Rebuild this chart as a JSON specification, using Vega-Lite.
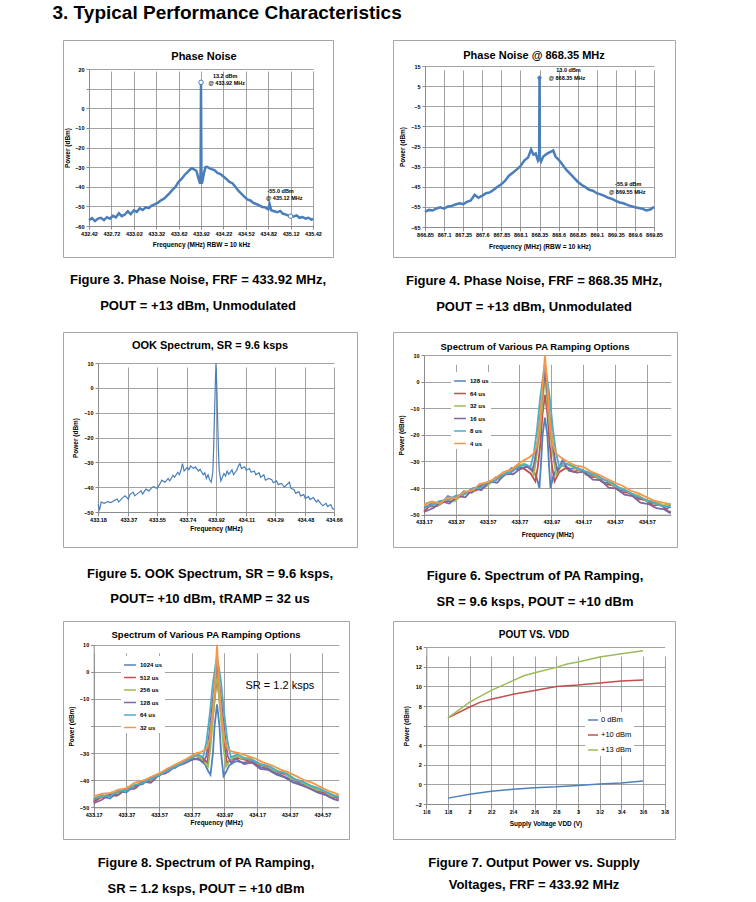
{
"$schema": "https://vega.github.io/schema/vega-lite/v6.json",
"background": "white",
"padding": {"left": 52, "top": 3, "right": 0, "bottom": 0},
"title": {"text": "3.  Typical Performance Characteristics", "anchor": "start", "fontSize": 19, "font": "Liberation Sans", "fontWeight": "bold", "dx": -10, "offset": 17, "color": "#000"},
"resolve": {"scale": {"color": "independent"}, "legend": {"color": "independent"}},
"datasets": {
"p1": [
{"x":432.42,"y":-57.0},{"x":432.46,"y":-56.0},{"x":432.50,"y":-57.5},{"x":432.54,"y":-56.2},{"x":432.58,"y":-55.8},{"x":432.62,"y":-57.0},{"x":432.66,"y":-55.5},{"x":432.70,"y":-56.3},{"x":432.74,"y":-54.8},{"x":432.78,"y":-55.6},{"x":432.82,"y":-53.5},{"x":432.86,"y":-55.0},{"x":432.90,"y":-54.2},{"x":432.94,"y":-52.5},{"x":432.98,"y":-54.0},{"x":433.02,"y":-52.0},{"x":433.06,"y":-52.8},{"x":433.10,"y":-51.0},{"x":433.14,"y":-51.8},{"x":433.18,"y":-50.5},{"x":433.22,"y":-50.9},{"x":433.26,"y":-49.6},{"x":433.30,"y":-49.0},{"x":433.34,"y":-48.2},{"x":433.38,"y":-47.0},{"x":433.42,"y":-46.2},{"x":433.46,"y":-44.8},{"x":433.50,"y":-43.2},{"x":433.54,"y":-41.5},{"x":433.58,"y":-40.0},{"x":433.62,"y":-37.5},{"x":433.66,"y":-36.0},{"x":433.70,"y":-34.0},{"x":433.74,"y":-32.5},{"x":433.78,"y":-31.0},{"x":433.80,"y":-30.5},{"x":433.83,"y":-31.2},{"x":433.86,"y":-32.0},{"x":433.88,"y":-35.0},{"x":433.90,"y":-37.5},{"x":433.91,"y":-38.5},{"x":433.915,"y":-30.0},{"x":433.92,"y":13.2},{"x":433.925,"y":-30.0},{"x":433.93,"y":-38.5},{"x":433.94,"y":-37.0},{"x":433.96,"y":-33.0},{"x":433.98,"y":-30.0},{"x":434.00,"y":-29.8},{"x":434.03,"y":-30.5},{"x":434.06,"y":-31.0},{"x":434.10,"y":-31.5},{"x":434.14,"y":-33.0},{"x":434.18,"y":-33.5},{"x":434.22,"y":-34.8},{"x":434.26,"y":-36.0},{"x":434.30,"y":-37.5},{"x":434.34,"y":-38.2},{"x":434.38,"y":-40.0},{"x":434.42,"y":-42.0},{"x":434.46,"y":-43.5},{"x":434.50,"y":-45.0},{"x":434.54,"y":-46.5},{"x":434.58,"y":-47.0},{"x":434.62,"y":-48.2},{"x":434.66,"y":-48.8},{"x":434.70,"y":-49.5},{"x":434.74,"y":-50.3},{"x":434.78,"y":-50.5},{"x":434.82,"y":-51.5},{"x":434.84,"y":-49.0},{"x":434.86,"y":-52.0},{"x":434.90,"y":-52.5},{"x":434.94,"y":-53.0},{"x":434.98,"y":-52.3},{"x":435.02,"y":-53.8},{"x":435.06,"y":-54.2},{"x":435.10,"y":-54.8},{"x":435.12,"y":-55.0},{"x":435.16,"y":-55.2},{"x":435.20,"y":-54.6},{"x":435.24,"y":-55.8},{"x":435.28,"y":-55.4},{"x":435.32,"y":-56.2},{"x":435.36,"y":-55.8},{"x":435.40,"y":-56.8},{"x":435.42,"y":-56.2}
],
"p1m": [{"x":433.92,"y":13.2},{"x":435.12,"y":-55.0}],
"p1t": [{"x":434.08,"y":16.4,"t":"13.2 dBm"},{"x":434.02,"y":13.0,"t":"@ 433.92  MHz"},{"x":434.81,"y":-42.0,"t":"-55.0 dBm"},{"x":434.79,"y":-45.9,"t":"@ 435.12  MHz"}],
"p2": [
{"x":866.85,"y":-57.5},{"x":866.90,"y":-56.5},{"x":866.95,"y":-56.8},{"x":867.00,"y":-55.8},{"x":867.05,"y":-55.2},{"x":867.10,"y":-55.9},{"x":867.15,"y":-54.8},{"x":867.20,"y":-54.5},{"x":867.25,"y":-53.8},{"x":867.30,"y":-53.2},{"x":867.35,"y":-53.6},{"x":867.40,"y":-52.5},{"x":867.45,"y":-51.8},{"x":867.50,"y":-49.0},{"x":867.55,"y":-50.5},{"x":867.60,"y":-49.4},{"x":867.65,"y":-48.2},{"x":867.70,"y":-47.8},{"x":867.75,"y":-46.5},{"x":867.80,"y":-45.0},{"x":867.85,"y":-43.8},{"x":867.90,"y":-42.0},{"x":867.95,"y":-39.5},{"x":868.00,"y":-38.0},{"x":868.05,"y":-36.5},{"x":868.10,"y":-34.8},{"x":868.15,"y":-32.0},{"x":868.20,"y":-30.5},{"x":868.24,"y":-26.5},{"x":868.27,"y":-29.0},{"x":868.30,"y":-28.5},{"x":868.33,"y":-32.0},{"x":868.345,"y":-31.0},{"x":868.35,"y":9.2},{"x":868.355,"y":-31.0},{"x":868.37,"y":-32.5},{"x":868.40,"y":-30.0},{"x":868.45,"y":-28.5},{"x":868.50,"y":-27.5},{"x":868.53,"y":-27.0},{"x":868.56,"y":-30.0},{"x":868.60,"y":-31.5},{"x":868.65,"y":-34.0},{"x":868.70,"y":-36.5},{"x":868.75,"y":-38.5},{"x":868.80,"y":-40.5},{"x":868.85,"y":-42.5},{"x":868.90,"y":-44.0},{"x":868.95,"y":-45.2},{"x":869.00,"y":-46.5},{"x":869.05,"y":-47.0},{"x":869.10,"y":-48.2},{"x":869.15,"y":-48.8},{"x":869.20,"y":-49.5},{"x":869.25,"y":-50.5},{"x":869.30,"y":-51.0},{"x":869.35,"y":-52.0},{"x":869.40,"y":-52.8},{"x":869.45,"y":-53.2},{"x":869.50,"y":-54.0},{"x":869.55,"y":-54.6},{"x":869.60,"y":-55.2},{"x":869.65,"y":-55.6},{"x":869.70,"y":-56.0},{"x":869.75,"y":-56.8},{"x":869.80,"y":-56.3},{"x":869.85,"y":-55.0}
],
"p2m": [{"x":868.35,"y":9.2}],
"p2t": [{"x":868.57,"y":13.0,"t":"13.0 dBm"},{"x":868.47,"y":8.9,"t":"@ 868.35  MHz"},{"x":869.34,"y":-43.8,"t":"-55.9 dBm"},{"x":869.26,"y":-47.5,"t":"@ 869.55  MHz"}],
"p3": [
{"x":433.18,"y":-47.0},{"x":433.19,"y":-49.0},{"x":433.20,"y":-46.0},{"x":433.22,"y":-46.5},{"x":433.24,"y":-45.8},{"x":433.26,"y":-46.2},{"x":433.28,"y":-45.5},{"x":433.30,"y":-44.8},{"x":433.31,"y":-46.0},{"x":433.33,"y":-44.5},{"x":433.35,"y":-43.5},{"x":433.37,"y":-44.8},{"x":433.38,"y":-43.0},{"x":433.40,"y":-42.0},{"x":433.41,"y":-43.5},{"x":433.43,"y":-42.5},{"x":433.45,"y":-41.5},{"x":433.46,"y":-42.8},{"x":433.48,"y":-40.8},{"x":433.50,"y":-41.5},{"x":433.52,"y":-40.0},{"x":433.53,"y":-39.8},{"x":433.55,"y":-40.5},{"x":433.57,"y":-38.5},{"x":433.58,"y":-37.2},{"x":433.60,"y":-38.0},{"x":433.62,"y":-36.5},{"x":433.63,"y":-37.5},{"x":433.65,"y":-35.2},{"x":433.66,"y":-36.0},{"x":433.68,"y":-34.0},{"x":433.69,"y":-35.0},{"x":433.70,"y":-33.2},{"x":433.71,"y":-30.5},{"x":433.72,"y":-33.5},{"x":433.74,"y":-32.0},{"x":433.75,"y":-33.0},{"x":433.76,"y":-31.5},{"x":433.78,"y":-32.5},{"x":433.79,"y":-31.8},{"x":433.81,"y":-33.5},{"x":433.82,"y":-32.8},{"x":433.84,"y":-35.0},{"x":433.85,"y":-34.2},{"x":433.86,"y":-36.5},{"x":433.87,"y":-35.0},{"x":433.88,"y":-37.0},{"x":433.89,"y":-38.0},{"x":433.90,"y":-34.0},{"x":433.905,"y":-25.0},{"x":433.91,"y":-12.0},{"x":433.915,"y":0.0},{"x":433.92,"y":10.0},{"x":433.925,"y":0.0},{"x":433.93,"y":-12.0},{"x":433.935,"y":-25.0},{"x":433.94,"y":-33.0},{"x":433.95,"y":-37.5},{"x":433.96,"y":-36.0},{"x":433.97,"y":-34.5},{"x":433.98,"y":-35.5},{"x":433.99,"y":-33.5},{"x":434.00,"y":-34.8},{"x":434.02,"y":-33.0},{"x":434.03,"y":-35.0},{"x":434.05,"y":-33.2},{"x":434.06,"y":-31.5},{"x":434.07,"y":-30.5},{"x":434.08,"y":-32.5},{"x":434.10,"y":-31.8},{"x":434.11,"y":-33.2},{"x":434.13,"y":-32.5},{"x":434.14,"y":-34.0},{"x":434.16,"y":-33.5},{"x":434.17,"y":-35.0},{"x":434.19,"y":-34.2},{"x":434.20,"y":-36.0},{"x":434.22,"y":-35.0},{"x":434.23,"y":-37.2},{"x":434.25,"y":-36.5},{"x":434.27,"y":-37.0},{"x":434.28,"y":-38.2},{"x":434.30,"y":-37.5},{"x":434.31,"y":-39.0},{"x":434.33,"y":-38.5},{"x":434.35,"y":-40.0},{"x":434.36,"y":-39.2},{"x":434.38,"y":-38.0},{"x":434.39,"y":-40.5},{"x":434.41,"y":-41.0},{"x":434.42,"y":-42.5},{"x":434.44,"y":-41.8},{"x":434.45,"y":-43.5},{"x":434.47,"y":-43.0},{"x":434.48,"y":-44.5},{"x":434.50,"y":-43.8},{"x":434.51,"y":-45.0},{"x":434.53,"y":-44.2},{"x":434.55,"y":-46.0},{"x":434.56,"y":-45.2},{"x":434.58,"y":-46.8},{"x":434.59,"y":-47.5},{"x":434.61,"y":-46.5},{"x":434.62,"y":-47.8},{"x":434.64,"y":-47.0},{"x":434.65,"y":-48.5},{"x":434.66,"y":-49.0}
],
"p4": [
{"s":"128 us","x":433.17,"y":-47.5},{"s":"128 us","x":433.22,"y":-45.8},{"s":"128 us","x":433.27,"y":-46.2},{"s":"128 us","x":433.32,"y":-43.0},{"s":"128 us","x":433.37,"y":-44.2},{"s":"128 us","x":433.42,"y":-41.2},{"s":"128 us","x":433.47,"y":-41.8},{"s":"128 us","x":433.52,"y":-39.0},{"s":"128 us","x":433.57,"y":-38.8},{"s":"128 us","x":433.62,"y":-36.0},{"s":"128 us","x":433.67,"y":-35.5},{"s":"128 us","x":433.72,"y":-32.4},{"s":"128 us","x":433.77,"y":-33.0},{"s":"128 us","x":433.82,"y":-31.8},{"s":"128 us","x":433.86,"y":-33.5},{"s":"128 us","x":433.88,"y":-36.5},{"s":"128 us","x":433.895,"y":-40.0},{"s":"128 us","x":433.905,"y":-31.0},{"s":"128 us","x":433.915,"y":-20.0},{"s":"128 us","x":433.93,"y":-13.5},{"s":"128 us","x":433.945,"y":-20.0},{"s":"128 us","x":433.955,"y":-31.0},{"s":"128 us","x":433.965,"y":-40.0},{"s":"128 us","x":433.98,"y":-36.0},{"s":"128 us","x":434.00,"y":-33.0},{"s":"128 us","x":434.04,"y":-31.5},{"s":"128 us","x":434.09,"y":-32.8},{"s":"128 us","x":434.14,"y":-32.5},{"s":"128 us","x":434.19,"y":-35.0},{"s":"128 us","x":434.24,"y":-35.2},{"s":"128 us","x":434.29,"y":-37.8},{"s":"128 us","x":434.34,"y":-38.2},{"s":"128 us","x":434.39,"y":-40.8},{"s":"128 us","x":434.44,"y":-41.0},{"s":"128 us","x":434.49,"y":-43.2},{"s":"128 us","x":434.54,"y":-43.8},{"s":"128 us","x":434.59,"y":-45.6},{"s":"128 us","x":434.64,"y":-45.5},{"s":"128 us","x":434.69,"y":-47.8},{"s":"128 us","x":434.72,"y":-47.0},
{"s":"64 us","x":433.17,"y":-48.8},{"s":"64 us","x":433.20,"y":-47.0},{"s":"64 us","x":433.25,"y":-46.8},{"s":"64 us","x":433.30,"y":-45.0},{"s":"64 us","x":433.35,"y":-44.8},{"s":"64 us","x":433.40,"y":-43.0},{"s":"64 us","x":433.45,"y":-41.5},{"s":"64 us","x":433.50,"y":-40.8},{"s":"64 us","x":433.55,"y":-38.2},{"s":"64 us","x":433.60,"y":-37.5},{"s":"64 us","x":433.65,"y":-35.2},{"s":"64 us","x":433.70,"y":-34.8},{"s":"64 us","x":433.75,"y":-32.0},{"s":"64 us","x":433.80,"y":-32.8},{"s":"64 us","x":433.84,"y":-34.5},{"s":"64 us","x":433.87,"y":-37.5},{"s":"64 us","x":433.885,"y":-32.0},{"s":"64 us","x":433.90,"y":-24.0},{"s":"64 us","x":433.915,"y":-12.0},{"s":"64 us","x":433.93,"y":-5.0},{"s":"64 us","x":433.945,"y":-12.0},{"s":"64 us","x":433.96,"y":-24.0},{"s":"64 us","x":433.975,"y":-32.0},{"s":"64 us","x":433.99,"y":-37.5},{"s":"64 us","x":434.02,"y":-34.0},{"s":"64 us","x":434.06,"y":-32.5},{"s":"64 us","x":434.11,"y":-33.8},{"s":"64 us","x":434.16,"y":-33.0},{"s":"64 us","x":434.21,"y":-35.8},{"s":"64 us","x":434.26,"y":-36.0},{"s":"64 us","x":434.31,"y":-38.5},{"s":"64 us","x":434.36,"y":-39.0},{"s":"64 us","x":434.41,"y":-41.5},{"s":"64 us","x":434.46,"y":-41.8},{"s":"64 us","x":434.51,"y":-44.0},{"s":"64 us","x":434.56,"y":-44.5},{"s":"64 us","x":434.61,"y":-46.5},{"s":"64 us","x":434.66,"y":-46.2},{"s":"64 us","x":434.70,"y":-48.5},{"s":"64 us","x":434.72,"y":-49.0},
{"s":"32 us","x":433.17,"y":-46.0},{"s":"32 us","x":433.21,"y":-45.2},{"s":"32 us","x":433.26,"y":-46.5},{"s":"32 us","x":433.31,"y":-44.0},{"s":"32 us","x":433.36,"y":-45.0},{"s":"32 us","x":433.41,"y":-42.5},{"s":"32 us","x":433.46,"y":-41.0},{"s":"32 us","x":433.51,"y":-40.2},{"s":"32 us","x":433.56,"y":-39.5},{"s":"32 us","x":433.61,"y":-37.0},{"s":"32 us","x":433.66,"y":-36.0},{"s":"32 us","x":433.71,"y":-33.5},{"s":"32 us","x":433.76,"y":-31.5},{"s":"32 us","x":433.80,"y":-30.8},{"s":"32 us","x":433.84,"y":-32.5},{"s":"32 us","x":433.86,"y":-35.0},{"s":"32 us","x":433.875,"y":-29.0},{"s":"32 us","x":433.895,"y":-20.0},{"s":"32 us","x":433.915,"y":-8.0},{"s":"32 us","x":433.93,"y":2.0},{"s":"32 us","x":433.945,"y":-8.0},{"s":"32 us","x":433.965,"y":-20.0},{"s":"32 us","x":433.985,"y":-29.0},{"s":"32 us","x":434.00,"y":-35.0},{"s":"32 us","x":434.03,"y":-32.0},{"s":"32 us","x":434.07,"y":-31.0},{"s":"32 us","x":434.12,"y":-32.5},{"s":"32 us","x":434.17,"y":-34.0},{"s":"32 us","x":434.22,"y":-34.5},{"s":"32 us","x":434.27,"y":-36.5},{"s":"32 us","x":434.32,"y":-37.2},{"s":"32 us","x":434.37,"y":-39.5},{"s":"32 us","x":434.42,"y":-40.2},{"s":"32 us","x":434.47,"y":-42.0},{"s":"32 us","x":434.52,"y":-42.8},{"s":"32 us","x":434.57,"y":-45.0},{"s":"32 us","x":434.62,"y":-44.8},{"s":"32 us","x":434.67,"y":-46.5},{"s":"32 us","x":434.72,"y":-46.0},
{"s":"16 us","x":433.17,"y":-49.0},{"s":"16 us","x":433.23,"y":-47.5},{"s":"16 us","x":433.28,"y":-45.0},{"s":"16 us","x":433.33,"y":-45.8},{"s":"16 us","x":433.38,"y":-43.0},{"s":"16 us","x":433.43,"y":-43.5},{"s":"16 us","x":433.48,"y":-40.0},{"s":"16 us","x":433.53,"y":-40.8},{"s":"16 us","x":433.58,"y":-37.5},{"s":"16 us","x":433.63,"y":-38.0},{"s":"16 us","x":433.68,"y":-34.5},{"s":"16 us","x":433.73,"y":-34.8},{"s":"16 us","x":433.78,"y":-32.5},{"s":"16 us","x":433.82,"y":-32.0},{"s":"16 us","x":433.85,"y":-33.5},{"s":"16 us","x":433.865,"y":-30.0},{"s":"16 us","x":433.885,"y":-22.0},{"s":"16 us","x":433.905,"y":-10.0},{"s":"16 us","x":433.93,"y":4.0},{"s":"16 us","x":433.955,"y":-10.0},{"s":"16 us","x":433.975,"y":-22.0},{"s":"16 us","x":433.995,"y":-30.0},{"s":"16 us","x":434.01,"y":-33.5},{"s":"16 us","x":434.04,"y":-29.5},{"s":"16 us","x":434.08,"y":-33.5},{"s":"16 us","x":434.13,"y":-34.2},{"s":"16 us","x":434.18,"y":-33.8},{"s":"16 us","x":434.23,"y":-36.8},{"s":"16 us","x":434.28,"y":-37.0},{"s":"16 us","x":434.33,"y":-39.8},{"s":"16 us","x":434.38,"y":-40.2},{"s":"16 us","x":434.43,"y":-42.5},{"s":"16 us","x":434.48,"y":-43.0},{"s":"16 us","x":434.53,"y":-45.5},{"s":"16 us","x":434.58,"y":-46.0},{"s":"16 us","x":434.63,"y":-47.5},{"s":"16 us","x":434.68,"y":-48.0},{"s":"16 us","x":434.72,"y":-49.5},
{"s":"8 us","x":433.17,"y":-47.0},{"s":"8 us","x":433.22,"y":-46.5},{"s":"8 us","x":433.27,"y":-44.8},{"s":"8 us","x":433.32,"y":-44.5},{"s":"8 us","x":433.37,"y":-42.8},{"s":"8 us","x":433.42,"y":-42.5},{"s":"8 us","x":433.47,"y":-40.2},{"s":"8 us","x":433.52,"y":-40.0},{"s":"8 us","x":433.57,"y":-37.8},{"s":"8 us","x":433.62,"y":-37.2},{"s":"8 us","x":433.67,"y":-34.8},{"s":"8 us","x":433.72,"y":-34.0},{"s":"8 us","x":433.77,"y":-31.8},{"s":"8 us","x":433.81,"y":-31.2},{"s":"8 us","x":433.84,"y":-32.0},{"s":"8 us","x":433.86,"y":-27.0},{"s":"8 us","x":433.88,"y":-18.0},{"s":"8 us","x":433.90,"y":-6.0},{"s":"8 us","x":433.93,"y":7.0},{"s":"8 us","x":433.96,"y":-6.0},{"s":"8 us","x":433.98,"y":-18.0},{"s":"8 us","x":434.00,"y":-27.0},{"s":"8 us","x":434.02,"y":-32.0},{"s":"8 us","x":434.05,"y":-30.5},{"s":"8 us","x":434.10,"y":-31.5},{"s":"8 us","x":434.15,"y":-33.0},{"s":"8 us","x":434.20,"y":-34.0},{"s":"8 us","x":434.25,"y":-35.0},{"s":"8 us","x":434.30,"y":-36.8},{"s":"8 us","x":434.35,"y":-38.0},{"s":"8 us","x":434.40,"y":-40.0},{"s":"8 us","x":434.45,"y":-41.2},{"s":"8 us","x":434.50,"y":-43.0},{"s":"8 us","x":434.55,"y":-44.0},{"s":"8 us","x":434.60,"y":-45.2},{"s":"8 us","x":434.65,"y":-46.5},{"s":"8 us","x":434.70,"y":-47.0},{"s":"8 us","x":434.72,"y":-46.2},
{"s":"4 us","x":433.17,"y":-46.5},{"s":"4 us","x":433.22,"y":-45.0},{"s":"4 us","x":433.27,"y":-45.8},{"s":"4 us","x":433.32,"y":-43.5},{"s":"4 us","x":433.37,"y":-43.8},{"s":"4 us","x":433.42,"y":-41.5},{"s":"4 us","x":433.47,"y":-41.0},{"s":"4 us","x":433.52,"y":-38.5},{"s":"4 us","x":433.57,"y":-37.8},{"s":"4 us","x":433.62,"y":-36.2},{"s":"4 us","x":433.67,"y":-34.0},{"s":"4 us","x":433.72,"y":-33.0},{"s":"4 us","x":433.77,"y":-30.5},{"s":"4 us","x":433.80,"y":-29.5},{"s":"4 us","x":433.83,"y":-28.5},{"s":"4 us","x":433.86,"y":-27.0},{"s":"4 us","x":433.88,"y":-24.0},{"s":"4 us","x":433.90,"y":-14.0},{"s":"4 us","x":433.915,"y":-2.0},{"s":"4 us","x":433.93,"y":10.0},{"s":"4 us","x":433.945,"y":-2.0},{"s":"4 us","x":433.96,"y":-14.0},{"s":"4 us","x":433.98,"y":-24.0},{"s":"4 us","x":434.00,"y":-27.0},{"s":"4 us","x":434.03,"y":-28.5},{"s":"4 us","x":434.07,"y":-30.0},{"s":"4 us","x":434.12,"y":-31.5},{"s":"4 us","x":434.17,"y":-32.0},{"s":"4 us","x":434.22,"y":-33.8},{"s":"4 us","x":434.27,"y":-35.0},{"s":"4 us","x":434.32,"y":-36.5},{"s":"4 us","x":434.37,"y":-38.0},{"s":"4 us","x":434.42,"y":-39.2},{"s":"4 us","x":434.47,"y":-41.0},{"s":"4 us","x":434.52,"y":-42.0},{"s":"4 us","x":434.57,"y":-43.5},{"s":"4 us","x":434.62,"y":-44.8},{"s":"4 us","x":434.67,"y":-45.5},{"s":"4 us","x":434.72,"y":-46.0}
],
"p5": [
{"s":"1024 us","x":433.17,"y":-47.5},{"s":"1024 us","x":433.22,"y":-46.0},{"s":"1024 us","x":433.27,"y":-46.8},{"s":"1024 us","x":433.32,"y":-44.2},{"s":"1024 us","x":433.37,"y":-44.5},{"s":"1024 us","x":433.42,"y":-42.0},{"s":"1024 us","x":433.47,"y":-41.5},{"s":"1024 us","x":433.52,"y":-39.0},{"s":"1024 us","x":433.57,"y":-38.5},{"s":"1024 us","x":433.62,"y":-35.8},{"s":"1024 us","x":433.67,"y":-35.5},{"s":"1024 us","x":433.72,"y":-32.8},{"s":"1024 us","x":433.77,"y":-32.0},{"s":"1024 us","x":433.82,"y":-32.5},{"s":"1024 us","x":433.85,"y":-34.0},{"s":"1024 us","x":433.87,"y":-36.5},{"s":"1024 us","x":433.885,"y":-38.0},{"s":"1024 us","x":433.90,"y":-30.0},{"s":"1024 us","x":433.91,"y":-20.0},{"s":"1024 us","x":433.925,"y":-12.0},{"s":"1024 us","x":433.94,"y":-20.0},{"s":"1024 us","x":433.95,"y":-30.0},{"s":"1024 us","x":433.965,"y":-38.5},{"s":"1024 us","x":433.98,"y":-37.0},{"s":"1024 us","x":434.00,"y":-34.5},{"s":"1024 us","x":434.04,"y":-33.0},{"s":"1024 us","x":434.09,"y":-33.5},{"s":"1024 us","x":434.14,"y":-32.8},{"s":"1024 us","x":434.19,"y":-35.2},{"s":"1024 us","x":434.24,"y":-35.8},{"s":"1024 us","x":434.29,"y":-37.5},{"s":"1024 us","x":434.34,"y":-38.8},{"s":"1024 us","x":434.39,"y":-40.0},{"s":"1024 us","x":434.44,"y":-41.5},{"s":"1024 us","x":434.49,"y":-42.2},{"s":"1024 us","x":434.54,"y":-44.0},{"s":"1024 us","x":434.59,"y":-44.8},{"s":"1024 us","x":434.64,"y":-46.5},{"s":"1024 us","x":434.67,"y":-46.0},
{"s":"512 us","x":433.17,"y":-48.0},{"s":"512 us","x":433.21,"y":-46.5},{"s":"512 us","x":433.26,"y":-45.5},{"s":"512 us","x":433.31,"y":-45.8},{"s":"512 us","x":433.36,"y":-43.5},{"s":"512 us","x":433.41,"y":-43.0},{"s":"512 us","x":433.46,"y":-40.8},{"s":"512 us","x":433.51,"y":-40.5},{"s":"512 us","x":433.56,"y":-38.0},{"s":"512 us","x":433.61,"y":-37.5},{"s":"512 us","x":433.66,"y":-34.8},{"s":"512 us","x":433.71,"y":-34.0},{"s":"512 us","x":433.76,"y":-31.5},{"s":"512 us","x":433.80,"y":-31.0},{"s":"512 us","x":433.84,"y":-32.0},{"s":"512 us","x":433.865,"y":-33.5},{"s":"512 us","x":433.88,"y":-27.0},{"s":"512 us","x":433.90,"y":-16.0},{"s":"512 us","x":433.925,"y":-2.0},{"s":"512 us","x":433.95,"y":-16.0},{"s":"512 us","x":433.97,"y":-27.0},{"s":"512 us","x":433.985,"y":-33.5},{"s":"512 us","x":434.01,"y":-32.5},{"s":"512 us","x":434.05,"y":-31.8},{"s":"512 us","x":434.10,"y":-32.5},{"s":"512 us","x":434.15,"y":-33.8},{"s":"512 us","x":434.20,"y":-34.5},{"s":"512 us","x":434.25,"y":-35.5},{"s":"512 us","x":434.30,"y":-37.0},{"s":"512 us","x":434.35,"y":-38.0},{"s":"512 us","x":434.40,"y":-39.8},{"s":"512 us","x":434.45,"y":-41.0},{"s":"512 us","x":434.50,"y":-42.5},{"s":"512 us","x":434.55,"y":-43.8},{"s":"512 us","x":434.60,"y":-45.0},{"s":"512 us","x":434.65,"y":-46.2},{"s":"512 us","x":434.67,"y":-47.0},
{"s":"256 us","x":433.17,"y":-46.5},{"s":"256 us","x":433.23,"y":-46.0},{"s":"256 us","x":433.28,"y":-44.5},{"s":"256 us","x":433.33,"y":-45.0},{"s":"256 us","x":433.38,"y":-42.5},{"s":"256 us","x":433.43,"y":-42.8},{"s":"256 us","x":433.48,"y":-40.0},{"s":"256 us","x":433.53,"y":-39.8},{"s":"256 us","x":433.58,"y":-37.2},{"s":"256 us","x":433.63,"y":-36.8},{"s":"256 us","x":433.68,"y":-34.0},{"s":"256 us","x":433.73,"y":-33.2},{"s":"256 us","x":433.78,"y":-31.0},{"s":"256 us","x":433.82,"y":-31.5},{"s":"256 us","x":433.85,"y":-33.5},{"s":"256 us","x":433.87,"y":-35.0},{"s":"256 us","x":433.885,"y":-28.0},{"s":"256 us","x":433.905,"y":-14.0},{"s":"256 us","x":433.925,"y":0.0},{"s":"256 us","x":433.945,"y":-14.0},{"s":"256 us","x":433.965,"y":-28.0},{"s":"256 us","x":433.98,"y":-35.0},{"s":"256 us","x":434.00,"y":-33.0},{"s":"256 us","x":434.04,"y":-31.0},{"s":"256 us","x":434.08,"y":-32.0},{"s":"256 us","x":434.13,"y":-31.8},{"s":"256 us","x":434.18,"y":-34.0},{"s":"256 us","x":434.23,"y":-34.8},{"s":"256 us","x":434.28,"y":-36.5},{"s":"256 us","x":434.33,"y":-37.0},{"s":"256 us","x":434.38,"y":-39.5},{"s":"256 us","x":434.43,"y":-40.2},{"s":"256 us","x":434.48,"y":-42.0},{"s":"256 us","x":434.53,"y":-43.5},{"s":"256 us","x":434.58,"y":-44.0},{"s":"256 us","x":434.63,"y":-46.0},{"s":"256 us","x":434.67,"y":-45.5},
{"s":"128 us","x":433.17,"y":-48.5},{"s":"128 us","x":433.22,"y":-47.2},{"s":"128 us","x":433.27,"y":-45.2},{"s":"128 us","x":433.32,"y":-45.5},{"s":"128 us","x":433.37,"y":-43.0},{"s":"128 us","x":433.42,"y":-43.2},{"s":"128 us","x":433.47,"y":-40.5},{"s":"128 us","x":433.52,"y":-41.0},{"s":"128 us","x":433.57,"y":-38.0},{"s":"128 us","x":433.62,"y":-37.0},{"s":"128 us","x":433.67,"y":-35.0},{"s":"128 us","x":433.72,"y":-34.0},{"s":"128 us","x":433.77,"y":-32.5},{"s":"128 us","x":433.81,"y":-32.0},{"s":"128 us","x":433.84,"y":-33.5},{"s":"128 us","x":433.86,"y":-31.0},{"s":"128 us","x":433.88,"y":-22.0},{"s":"128 us","x":433.90,"y":-10.0},{"s":"128 us","x":433.925,"y":3.0},{"s":"128 us","x":433.95,"y":-10.0},{"s":"128 us","x":433.97,"y":-22.0},{"s":"128 us","x":433.99,"y":-31.0},{"s":"128 us","x":434.01,"y":-33.5},{"s":"128 us","x":434.04,"y":-32.0},{"s":"128 us","x":434.09,"y":-34.0},{"s":"128 us","x":434.14,"y":-33.5},{"s":"128 us","x":434.19,"y":-35.8},{"s":"128 us","x":434.24,"y":-36.2},{"s":"128 us","x":434.29,"y":-38.0},{"s":"128 us","x":434.34,"y":-39.0},{"s":"128 us","x":434.39,"y":-40.8},{"s":"128 us","x":434.44,"y":-41.8},{"s":"128 us","x":434.49,"y":-43.0},{"s":"128 us","x":434.54,"y":-44.5},{"s":"128 us","x":434.59,"y":-45.5},{"s":"128 us","x":434.64,"y":-47.0},{"s":"128 us","x":434.67,"y":-47.5},
{"s":"64 us","x":433.17,"y":-47.0},{"s":"64 us","x":433.22,"y":-45.5},{"s":"64 us","x":433.27,"y":-46.0},{"s":"64 us","x":433.32,"y":-44.0},{"s":"64 us","x":433.37,"y":-43.8},{"s":"64 us","x":433.42,"y":-41.8},{"s":"64 us","x":433.47,"y":-41.0},{"s":"64 us","x":433.52,"y":-39.5},{"s":"64 us","x":433.57,"y":-38.2},{"s":"64 us","x":433.62,"y":-36.5},{"s":"64 us","x":433.67,"y":-35.0},{"s":"64 us","x":433.72,"y":-33.5},{"s":"64 us","x":433.77,"y":-31.8},{"s":"64 us","x":433.81,"y":-30.5},{"s":"64 us","x":433.84,"y":-31.5},{"s":"64 us","x":433.86,"y":-26.0},{"s":"64 us","x":433.88,"y":-16.0},{"s":"64 us","x":433.90,"y":-4.0},{"s":"64 us","x":433.925,"y":6.0},{"s":"64 us","x":433.95,"y":-4.0},{"s":"64 us","x":433.97,"y":-16.0},{"s":"64 us","x":433.99,"y":-26.0},{"s":"64 us","x":434.01,"y":-31.5},{"s":"64 us","x":434.05,"y":-30.5},{"s":"64 us","x":434.10,"y":-32.0},{"s":"64 us","x":434.15,"y":-32.8},{"s":"64 us","x":434.20,"y":-34.2},{"s":"64 us","x":434.25,"y":-35.0},{"s":"64 us","x":434.30,"y":-36.8},{"s":"64 us","x":434.35,"y":-37.5},{"s":"64 us","x":434.40,"y":-39.5},{"s":"64 us","x":434.45,"y":-40.5},{"s":"64 us","x":434.50,"y":-42.0},{"s":"64 us","x":434.55,"y":-43.0},{"s":"64 us","x":434.60,"y":-44.5},{"s":"64 us","x":434.65,"y":-45.8},{"s":"64 us","x":434.67,"y":-46.5},
{"s":"32 us","x":433.17,"y":-46.0},{"s":"32 us","x":433.22,"y":-45.0},{"s":"32 us","x":433.27,"y":-44.8},{"s":"32 us","x":433.32,"y":-43.5},{"s":"32 us","x":433.37,"y":-43.0},{"s":"32 us","x":433.42,"y":-41.0},{"s":"32 us","x":433.47,"y":-40.2},{"s":"32 us","x":433.52,"y":-38.8},{"s":"32 us","x":433.57,"y":-37.5},{"s":"32 us","x":433.62,"y":-35.8},{"s":"32 us","x":433.67,"y":-34.2},{"s":"32 us","x":433.72,"y":-32.8},{"s":"32 us","x":433.77,"y":-31.0},{"s":"32 us","x":433.80,"y":-30.0},{"s":"32 us","x":433.83,"y":-29.5},{"s":"32 us","x":433.86,"y":-28.5},{"s":"32 us","x":433.88,"y":-25.0},{"s":"32 us","x":433.90,"y":-14.0},{"s":"32 us","x":433.915,"y":-2.0},{"s":"32 us","x":433.925,"y":10.0},{"s":"32 us","x":433.935,"y":-2.0},{"s":"32 us","x":433.95,"y":-14.0},{"s":"32 us","x":433.97,"y":-25.0},{"s":"32 us","x":433.99,"y":-28.5},{"s":"32 us","x":434.02,"y":-29.5},{"s":"32 us","x":434.06,"y":-30.0},{"s":"32 us","x":434.11,"y":-31.0},{"s":"32 us","x":434.16,"y":-32.0},{"s":"32 us","x":434.21,"y":-33.5},{"s":"32 us","x":434.26,"y":-34.5},{"s":"32 us","x":434.31,"y":-36.0},{"s":"32 us","x":434.36,"y":-37.0},{"s":"32 us","x":434.41,"y":-38.5},{"s":"32 us","x":434.46,"y":-40.0},{"s":"32 us","x":434.51,"y":-41.0},{"s":"32 us","x":434.56,"y":-42.5},{"s":"32 us","x":434.61,"y":-44.0},{"s":"32 us","x":434.66,"y":-45.0},{"s":"32 us","x":434.67,"y":-45.5}
],
"p5t": [{"x":434.31,"y":-5.2,"t":"SR = 1.2 ksps"}],
"p6": [
{"s":"0 dBm","x":1.8,"y":-1.4},{"s":"0 dBm","x":2.0,"y":-1.0},{"s":"0 dBm","x":2.2,"y":-0.7},{"s":"0 dBm","x":2.4,"y":-0.5},{"s":"0 dBm","x":2.6,"y":-0.35},{"s":"0 dBm","x":2.8,"y":-0.25},{"s":"0 dBm","x":3.0,"y":-0.1},{"s":"0 dBm","x":3.2,"y":0.05},{"s":"0 dBm","x":3.4,"y":0.15},{"s":"0 dBm","x":3.6,"y":0.35},
{"s":"+10 dBm","x":1.8,"y":6.8},{"s":"+10 dBm","x":2.0,"y":7.9},{"s":"+10 dBm","x":2.1,"y":8.4},{"s":"+10 dBm","x":2.2,"y":8.7},{"s":"+10 dBm","x":2.4,"y":9.2},{"s":"+10 dBm","x":2.6,"y":9.6},{"s":"+10 dBm","x":2.8,"y":10.0},{"s":"+10 dBm","x":3.0,"y":10.15},{"s":"+10 dBm","x":3.2,"y":10.35},{"s":"+10 dBm","x":3.4,"y":10.55},{"s":"+10 dBm","x":3.6,"y":10.65},
{"s":"+13 dBm","x":1.8,"y":6.8},{"s":"+13 dBm","x":2.0,"y":8.4},{"s":"+13 dBm","x":2.2,"y":9.6},{"s":"+13 dBm","x":2.4,"y":10.6},{"s":"+13 dBm","x":2.5,"y":11.1},{"s":"+13 dBm","x":2.6,"y":11.4},{"s":"+13 dBm","x":2.8,"y":11.95},{"s":"+13 dBm","x":2.9,"y":12.3},{"s":"+13 dBm","x":3.0,"y":12.5},{"s":"+13 dBm","x":3.2,"y":13.0},{"s":"+13 dBm","x":3.4,"y":13.35},{"s":"+13 dBm","x":3.6,"y":13.65}
]
},
"vconcat": [
{"hconcat": [
 {"vconcat": [{
  "width": 270, "height": 217,
  "title": {"text": "Phase Noise", "offset": -22, "fontSize": 11, "dx": 6},
  "encoding": {
   "x": {"field": "x", "type": "quantitative", "scale": {"domain": [432.42, 435.42], "range": [26, 250], "nice": false, "zero": false},
    "axis": {"offset": -31, "values": [432.42,432.72,433.02,433.32,433.62,433.92,434.22,434.52,434.82,435.12,435.42], "format": ".2f", "title": "Frequency  (MHz)  RBW  = 10 kHz", "titlePadding": 5}},
   "y": {"field": "y", "type": "quantitative", "scale": {"domain": [-60, 20], "range": [186, 29], "nice": false, "zero": false},
    "axis": {"offset": -26, "values": [20,10,0,-10,-20,-30,-40,-50,-60], "labelExpr": "datum.value == 10 ? '' : datum.label", "title": "Power (dBm)", "titlePadding": 4}}
  },
  "layer": [
   {"data": {"name": "p1"}, "mark": {"type": "line", "color": "#4A7EBB", "strokeWidth": 2.5}},
   {"data": {"name": "p1m"}, "mark": {"type": "point", "shape": "circle", "filled": true, "fill": "white", "stroke": "#4A7EBB", "strokeWidth": 1, "size": 20, "opacity": 1}},
   {"data": {"name": "p1t"}, "mark": {"type": "text", "align": "left", "baseline": "middle", "fontSize": 5.5, "fontWeight": "bold", "color": "#000"}, "encoding": {"text": {"field": "t"}}}
  ]
 }],
 "title": {"text": ["Figure 3. Phase Noise, FRF = 433.92 MHz,", "POUT = +13 dBm, Unmodulated"], "orient": "bottom", "anchor": "middle", "offset": 16, "lineHeight": 26, "baseline": "top", "fontSize": 13, "font": "Liberation Sans", "fontWeight": "bold"}},
 {"vconcat": [{
  "width": 282, "height": 217,
  "title": {"text": "Phase Noise @ 868.35 MHz", "offset": -21, "fontSize": 11},
  "encoding": {
   "x": {"field": "x", "type": "quantitative", "scale": {"domain": [866.85, 869.85], "range": [32, 261], "nice": false, "zero": false},
    "axis": {"offset": -30, "values": [866.85,867.1,867.35,867.6,867.85,868.1,868.35,868.6,868.85,869.1,869.35,869.6,869.85], "format": ".2~f", "title": "Frequency  (MHz)  (RBW  = 10 kHz)", "titlePadding": 6}},
   "y": {"field": "y", "type": "quantitative", "scale": {"domain": [-65, 15], "range": [187, 26], "nice": false, "zero": false},
    "axis": {"offset": -32, "values": [15,5,-5,-15,-25,-35,-45,-55,-65], "title": "Power (dBm)", "titlePadding": 5}}
  },
  "layer": [
   {"data": {"name": "p2"}, "mark": {"type": "line", "color": "#4A7EBB", "strokeWidth": 2.5}},
   {"data": {"name": "p2m"}, "mark": {"type": "point", "shape": "diamond", "filled": true, "color": "#4A7EBB", "size": 25, "opacity": 1}},
   {"data": {"name": "p2t"}, "mark": {"type": "text", "align": "left", "baseline": "middle", "fontSize": 5.5, "fontWeight": "bold", "color": "#000"}, "encoding": {"text": {"field": "t"}}}
  ]
 }],
 "title": {"text": ["Figure 4. Phase Noise, FRF = 868.35 MHz,", "POUT = +13 dBm, Unmodulated"], "orient": "bottom", "anchor": "middle", "offset": 17, "lineHeight": 26, "baseline": "top", "fontSize": 13, "font": "Liberation Sans", "fontWeight": "bold"}}
], "spacing": 58, "resolve": {"scale": {"color": "independent"}, "legend": {"color": "independent"}}},
{"vconcat": [
{"hconcat": [
 {"vconcat": [{
  "width": 294, "height": 215,
  "title": {"text": "OOK Spectrum, SR = 9.6 ksps", "offset": -19, "fontSize": 11},
  "encoding": {
   "x": {"field": "x", "type": "quantitative", "scale": {"domain": [433.18, 434.66], "range": [35, 271], "nice": false, "zero": false},
    "axis": {"offset": -35, "values": [433.18,433.37,433.55,433.74,433.92,434.11,434.29,434.48,434.66], "format": ".2f", "title": "Frequency  (MHz)", "titlePadding": 3}},
   "y": {"field": "y", "type": "quantitative", "scale": {"domain": [-50, 10], "range": [180, 31], "nice": false, "zero": false},
    "axis": {"offset": -35, "values": [10,0,-10,-20,-30,-40,-50], "title": "Power (dBm)", "titlePadding": 5}}
  },
  "layer": [
   {"data": {"name": "p3"}, "mark": {"type": "line", "color": "#4A7EBB", "strokeWidth": 1.2}}
  ]
 }],
 "title": {"text": ["Figure 5. OOK Spectrum, SR = 9.6 ksps,", "POUT= +10 dBm, tRAMP = 32 us"], "orient": "bottom", "anchor": "middle", "offset": 20, "lineHeight": 25, "baseline": "top", "fontSize": 13, "font": "Liberation Sans", "fontWeight": "bold"}},
 {"vconcat": [{
  "width": 284, "height": 215,
  "title": {"text": "Spectrum of Various PA Ramping Options", "offset": -19, "fontSize": 9.5},
  "encoding": {
   "x": {"field": "x", "type": "quantitative", "scale": {"domain": [433.17, 434.72], "range": [31, 277.7], "nice": false, "zero": false},
    "axis": {"offset": -32.3, "values": [433.17,433.37,433.57,433.77,433.97,434.17,434.37,434.57], "format": ".2f", "title": "Frequency  (MHz)", "titlePadding": 6}},
   "y": {"field": "y", "type": "quantitative", "scale": {"domain": [-50, 10], "range": [182.7, 23], "nice": false, "zero": false},
    "axis": {"offset": -31, "values": [10,0,-10,-20,-30,-40,-50], "title": "Power (dBm)", "titlePadding": 5}}
  },
  "layer": [
   {"data": {"name": "p4"}, "mark": {"type": "line", "strokeWidth": 1.8},
    "encoding": {"color": {"field": "s", "type": "nominal", "scale": {"domain": ["128 us","64 us","32 us","16 us","8 us","4 us"], "range": ["#4F81BD","#C0504D","#9BBB59","#8064A2","#4BACC6","#F79646"]},
     "legend": {"orient": "none", "legendX": 58, "legendY": 40, "title": null, "symbolType": "stroke", "symbolSize": 140, "symbolStrokeWidth": 1.5, "labelFontSize": 6, "labelFontWeight": "bold", "rowPadding": 2.5, "fillColor": "white", "padding": 2, "labelOffset": 3}}}}
  ]
 }],
 "title": {"text": ["Figure 6. Spectrum of PA Ramping,", "SR = 9.6 ksps, POUT = +10 dBm"], "orient": "bottom", "anchor": "middle", "offset": 22, "lineHeight": 26, "baseline": "top", "fontSize": 13, "font": "Liberation Sans", "fontWeight": "bold"}}
], "spacing": 34, "resolve": {"scale": {"color": "independent"}, "legend": {"color": "independent"}}},
{"hconcat": [
 {"vconcat": [{
  "width": 286, "height": 218,
  "title": {"text": "Spectrum of Various PA Ramping Options", "offset": -18, "fontSize": 9.5},
  "encoding": {
   "x": {"field": "x", "type": "quantitative", "scale": {"domain": [433.17, 434.67], "range": [30.7, 275.7], "nice": false, "zero": false},
    "axis": {"offset": -31.7, "values": [433.17,433.37,433.57,433.77,433.97,434.17,434.37,434.57], "format": ".2f", "title": "Frequency  (MHz)", "titlePadding": 2}},
   "y": {"field": "y", "type": "quantitative", "scale": {"domain": [-50, 10], "range": [186.3, 23.7], "nice": false, "zero": false},
    "axis": {"offset": -30.7, "values": [10,0,-10,-20,-30,-40,-50], "labelExpr": "datum.value == -20 ? '' : datum.label", "title": "Power (dBm)", "titlePadding": 5}}
  },
  "layer": [
   {"data": {"name": "p5"}, "mark": {"type": "line", "strokeWidth": 1.8},
    "encoding": {"color": {"field": "s", "type": "nominal", "scale": {"domain": ["1024 us","512 us","256 us","128 us","64 us","32 us"], "range": ["#4F81BD","#C0504D","#9BBB59","#8064A2","#4BACC6","#F79646"]},
     "legend": {"orient": "none", "legendX": 58, "legendY": 35, "title": null, "symbolType": "stroke", "symbolSize": 140, "symbolStrokeWidth": 1.5, "labelFontSize": 6, "labelFontWeight": "bold", "rowPadding": 2.5, "fillColor": "white", "padding": 2, "labelOffset": 3}}}},
   {"data": {"name": "p5t"}, "mark": {"type": "text", "align": "center", "baseline": "middle", "fontSize": 11, "color": "#000"}, "encoding": {"text": {"field": "t"}}}
  ]
 }],
 "title": {"text": ["Figure 8. Spectrum of PA Ramping,", "SR = 1.2 ksps, POUT = +10 dBm"], "orient": "bottom", "anchor": "middle", "offset": 17, "lineHeight": 26, "baseline": "top", "fontSize": 13, "font": "Liberation Sans", "fontWeight": "bold"}},
 {"vconcat": [{
  "width": 282, "height": 218,
  "title": {"text": "POUT VS. VDD", "offset": -19, "fontSize": 10},
  "encoding": {
   "x": {"field": "x", "type": "quantitative", "scale": {"domain": [1.6, 3.8], "range": [33.3, 271.7], "nice": false, "zero": false},
    "axis": {"offset": -35, "values": [1.6,1.8,2.0,2.2,2.4,2.6,2.8,3.0,3.2,3.4,3.6,3.8], "format": "~g", "title": "Supply Voltage  VDD (V)", "titlePadding": 6}},
   "y": {"field": "y", "type": "quantitative", "scale": {"domain": [-2, 14], "range": [183, 26.3], "nice": false, "zero": false},
    "axis": {"offset": -33.3, "values": [-2,0,2,4,6,8,10,12,14], "labelExpr": "datum.value == 6 ? '' : datum.label", "title": "Power (dBm)", "titlePadding": 6}}
  },
  "layer": [
   {"data": {"name": "p6"}, "mark": {"type": "line", "strokeWidth": 1.5},
    "encoding": {"color": {"field": "s", "type": "nominal", "scale": {"domain": ["0 dBm","+10 dBm","+13 dBm"], "range": ["#4F81BD","#C0504D","#9BBB59"]},
     "legend": {"orient": "none", "legendX": 192, "legendY": 91, "title": null, "symbolType": "stroke", "symbolSize": 100, "symbolStrokeWidth": 1.5, "labelFontSize": 7.5, "labelFontWeight": "normal", "rowPadding": 5, "fillColor": "white", "padding": 2, "labelOffset": 2}}}}
  ]
 }],
 "title": {"text": ["Figure 7. Output Power vs. Supply", "Voltages, FRF = 433.92 MHz"], "orient": "bottom", "anchor": "middle", "offset": 17, "lineHeight": 22, "baseline": "top", "fontSize": 13, "font": "Liberation Sans", "fontWeight": "bold"}}
], "spacing": 42, "resolve": {"scale": {"color": "independent"}, "legend": {"color": "independent"}}}
], "spacing": 11, "resolve": {"scale": {"color": "independent"}, "legend": {"color": "independent"}}}
],
"spacing": 17,
"config": {
 "view": {"stroke": "#A6A6A6", "strokeWidth": 1},
 "font": "Liberation Sans",
 "concat": {"spacing": 20},
 "title": {"font": "Liberation Sans", "fontWeight": "bold", "color": "#000", "anchor": "middle"},
 "axis": {"labelFont": "Liberation Sans", "labelFontSize": 5.5, "labelFontWeight": "bold", "labelColor": "#000", "titleFont": "Liberation Sans", "titleFontSize": 6.5, "titleFontWeight": "bold", "titleColor": "#000", "grid": true, "gridColor": "#8C8C8C", "gridWidth": 0.8, "domainColor": "#8C8C8C", "tickColor": "#8C8C8C", "tickSize": 3, "labelPadding": 2, "labelOverlap": false, "labelFlush": false, "labelBound": false},
 "legend": {"labelFont": "Liberation Sans", "labelColor": "#000"}
}
}
